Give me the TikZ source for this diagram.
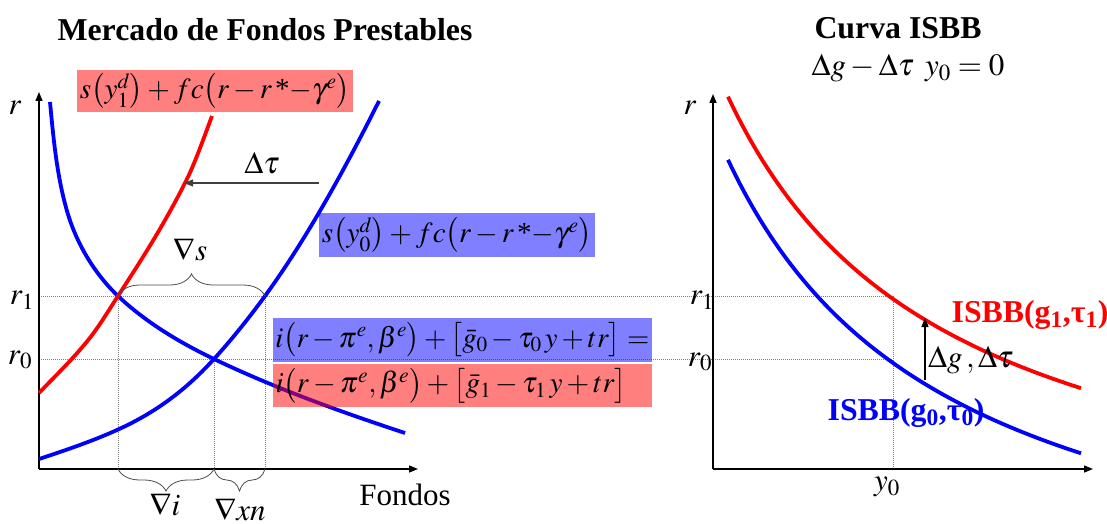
\documentclass[tikz,border=0pt]{standalone}
\usepackage{mathptmx}
\usepackage{graphicx}
\usepackage[no-math]{fontspec}
\setmainfont{Liberation Serif}
\usetikzlibrary{arrows.meta,decorations.pathreplacing}
\tikzset{
  curve/.style={line width=3.8pt},
  axis/.style={line width=1.4pt,-{Triangle[length=9pt,width=7pt]}},
  guide/.style={gray,line width=0.8pt,dash pattern=on 1pt off 1pt},
  lbl/.style={inner sep=0pt},
  hbox/.style={fill opacity=0.5,text opacity=1,inner sep=0pt},
  brc/.style={decorate,line width=0.8pt,black!70},
  shiftarrow/.style={line width=1.2pt,-{Triangle[length=9pt,width=7pt]}},
  boldlbl/.style={inner sep=0pt,font=\fontsize{31.8}{36}\selectfont\bfseries},
}
\newcommand{\fitw}[2]{\resizebox{#1}{!}{#2}}
\begin{document}
\begin{tikzpicture}[x=1pt,y=-1pt,font=\fontsize{31}{36}\selectfont]
\useasboundingbox (0,0) rectangle (1107,524);
% ---------- left panel ----------
\coordinate (O1) at (39,469);
\coordinate (Y1) at (39,92);
\coordinate (X1) at (418,469);
\coordinate (A1) at (118,296);
\coordinate (A0) at (214,359);
\coordinate (B1) at (265,296);
\coordinate (A1b) at (118,469);
\coordinate (A0b) at (214,469);
\coordinate (B1b) at (265,469);
% right panel
\coordinate (O2) at (713,469);
\coordinate (Y2) at (713,94);
\coordinate (X2) at (1093,469);
\coordinate (P0b) at (893,469);
\coordinate (L1) at (39,296);
\coordinate (L0) at (39,359);
\coordinate (R1) at (893,296);
\coordinate (R0) at (893,359);

% guides
\draw[guide] (L1) -- (R1);
\draw[guide] (L0) -- (R0);
\draw[guide] (A1) -- (A1b);
\draw[guide] (A0) -- (A0b);
\draw[guide] (B1) -- (B1b);
\draw[guide] (R1) -- (P0b);

% axes
\draw[axis] (O1) -- (Y1);
\draw[axis] (O1) -- (X1);
\draw[axis] (O2) -- (Y2);
\draw[axis] (O2) -- (X2);

% left curves
% demand (blue, falling)
\draw[curve,blue] (50,102) .. controls (53.5,139) and (56.8,175.4) .. (67,211)
  .. controls (76.1,242.7) and (94.1,273.3) .. (118,296)
  .. controls (145.6,322.2) and (179.7,342.6) .. (214,359)
  .. controls (275.3,388.4) and (340.4,411.7) .. (405,433);
% supply shifted (red)
\draw[curve,red] (39,393) .. controls (55.7,375.5) and (72.3,359.8) .. (89,339)
  .. controls (98.7,326.9) and (108.3,311) .. (118,296)
  .. controls (140.7,260.9) and (163.3,226.3) .. (186,181)
  .. controls (194.7,163.7) and (203.3,139.4) .. (212,116);
% supply original (blue)
\draw[curve,blue] (39,459) .. controls (65,450.4) and (91,441.7) .. (117,430)
  .. controls (149.3,415.5) and (181.7,394.6) .. (214,359)
  .. controls (231,340.3) and (248,319.3) .. (265,296)
  .. controls (303,243.9) and (341,177) .. (379,101);

% right curves
\draw[curve,red] plot[domain=728:1081,samples=60,smooth] (\x,{572.4-1060.69/((\x-504.9)*0.01)});
\draw[curve,blue] plot[domain=728:1081,samples=60,smooth] (\x,{641-1086.02/((\x-502.2)*0.01)});

% braces
\draw[brc,decoration={brace,amplitude=22pt}] (A1) -- (B1);
\draw[brc,decoration={brace,mirror,amplitude=22pt}] (A1b) -- (A0b);
\draw[brc,decoration={brace,mirror,amplitude=22pt}] (A0b) -- (B1b);

% label boxes
\node[hbox,fill=red,minimum width=276pt,minimum height=42pt] (sy1) at (215,91) {\fitw{270pt}{$s\bigl(y_1^d\bigr)+fc\bigl(r-r\,\mbox{*}{-}\gamma^{e}\bigr)$}};
\node[hbox,fill=blue,minimum width=276pt,minimum height=44pt] (sy0) at (457,235) {\fitw{270pt}{$s\bigl(y_0^d\bigr)+fc\bigl(r-r\,\mbox{*}{-}\gamma^{e}\bigr)$}};
\node[hbox,fill=blue,minimum width=379pt,minimum height=44pt] (ib0) at (462.5,340) {\fitw{374pt}{$i\bigl(r-\pi^{e},\beta^{e}\bigr)+\bigl[\bar{g}_0-\tau_0\,y+tr\bigr]=$}};
\node[hbox,fill=red,minimum width=379pt,minimum height=43pt] (ib1) at (462.5,385.5) {\fitw{374pt}{$i\bigl(r-\pi^{e},\beta^{e}\bigr)+\bigl[\bar{g}_1-\tau_1\,y+tr\bigr]\phantom{=}$}};

% shift arrow
\coordinate (T0) at (319,183);
\coordinate (T1) at (184,183);
\draw[shiftarrow,black!75] (T0) -- (T1);
\node[lbl] (dtau) at (262,163) {$\Delta\tau$};
\node[lbl] (ns) at (190,250) {$\nabla s$};
\node[lbl] (ni) at (165,505) {$\nabla i$};
\node[lbl] (nxn) at (240,510) {$\nabla xn$};
\node[lbl] (fondos) at (405,495) {Fondos};
\node[lbl] (r1l) at (22,300) {$r_1$};
\node[lbl] (r0l) at (20,360) {$r_0$};
\node[lbl] (rl) at (15,108) {$r$};
\node[boldlbl] (t1) at (265,30) {Mercado de Fondos Prestables};

% right panel labels
\node[boldlbl] (t2) at (898,28) {Curva ISBB};
\node[lbl] (eq) at (908,68) {$\Delta g-\Delta\tau\ \,y_0=0$};
\node[lbl] (rr) at (690,108) {$r$};
\node[lbl] (r1r) at (702,300) {$r_1$};
\node[lbl] (r0r) at (700,362) {$r_0$};
\node[lbl] (y0) at (887,487) {$y_0$};
\coordinate (G0) at (925,380);
\coordinate (G1) at (925,318);
\draw[shiftarrow] (G0) -- (G1);
\node[lbl,anchor=west] (dg) at (928,360) {$\Delta g\,,\Delta\tau$};
\node[boldlbl,red] (is1) at (1030,315) {ISBB(g\textsubscript{1},τ\textsubscript{1})};
\node[boldlbl,blue] (is0) at (906,413) {ISBB(g\textsubscript{0},τ\textsubscript{0})};
\end{tikzpicture}
\end{document}
